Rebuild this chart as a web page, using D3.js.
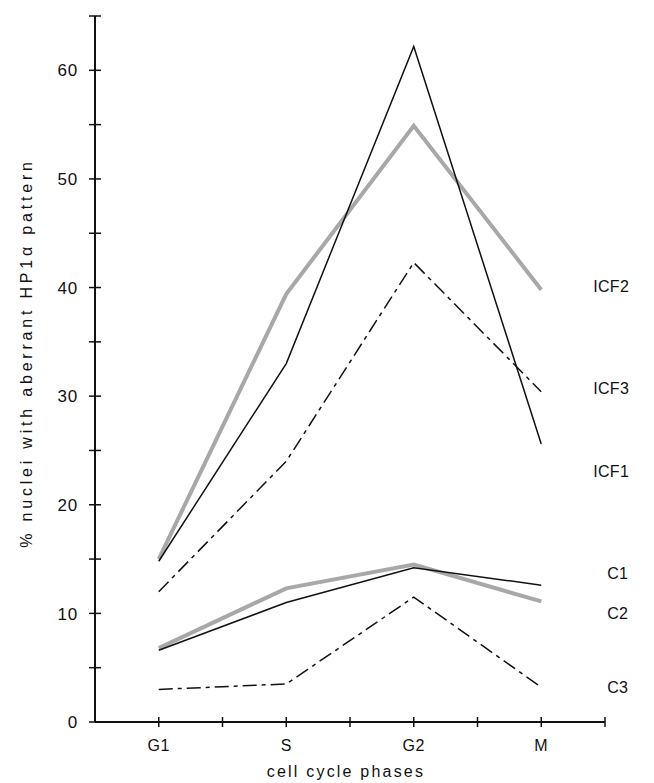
<!DOCTYPE html>
<html>
<head>
<meta charset="utf-8">
<script src="https://cdn.jsdelivr.net/npm/d3@7"></script>
<style>
  body { margin: 0; background: #fff; }
  svg { display: block; font-family: "Liberation Sans", Arial, sans-serif; }
</style>
</head>
<body>
<div id="chart"></div>
<script>
const phases = ["G1", "S", "G2", "M"];
const seriesNames = ["ICF1", "ICF2", "ICF3", "C1", "C2", "C3"];
const icf1 = [14.8, 33, 62.2, 25.6];
const icf2 = [15, 39.4, 54.9, 39.8];
const icf3 = [12, 24, 42.3, 30.4];
const c1 = [6.6, 11, 14.2, 12.6];
const c2 = [6.8, 12.3, 14.5, 11.1];
const c3 = [3, 3.5, 11.5, 3.2];
const yTicks = [0, 10, 20, 30, 40, 50, 60];

const width = 654, height = 783;

const svg = d3.select("#chart").append("svg")
  .attr("width", width)
  .attr("height", height);

// x: phases sit on odd positions, minor ticks on the even ones
const x = d3.scaleLinear().domain([0, 8]).range([95, 605]);
const y = d3.scaleLinear().domain([0, 65]).range([722, 16]);
const px = (i) => x(i * 2 + 1);

// styles per series
const styles = {
  ICF1: { color: "#111", width: 1.5, dash: null },
  ICF2: { color: "#a8a8a8", width: 4, dash: null },
  ICF3: { color: "#111", width: 1.5, dash: "14,5,4,5" },
  C1: { color: "#111", width: 1.5, dash: null },
  C2: { color: "#a8a8a8", width: 4, dash: null },
  C3: { color: "#111", width: 1.5, dash: "14,5,4,5" },
};
// label placement next to the last point (pixels)
const labelPos = {
  ICF1: { dx: 52, dy: 27 }, ICF2: { dx: 52, dy: -3 }, ICF3: { dx: 52, dy: -3 },
  C1: { dx: 66, dy: -12 }, C2: { dx: 66, dy: 12 }, C3: { dx: 66, dy: 0 },
};

const allSeries = [icf1, icf2, icf3, c1, c2, c3];

const line = d3.line()
  .x((d, i) => px(i))
  .y((d) => y(d));

// grey first so the black lines sit on top
const order = [1, 4, 0, 2, 3, 5];
order.forEach((k) => {
  const name = seriesNames[k];
  const s = styles[name];
  svg.append("path")
    .datum(allSeries[k])
    .attr("fill", "none")
    .attr("stroke", s.color)
    .attr("stroke-width", s.width)
    .attr("stroke-dasharray", s.dash)
    .attr("d", line);
});

// series labels
seriesNames.forEach((name, k) => {
  const vals = allSeries[k];
  const p = labelPos[name];
  svg.append("text")
    .attr("x", px(3) + p.dx)
    .attr("y", y(vals[3]) + p.dy)
    .attr("dy", "0.35em")
    .attr("font-size", 16)
    .attr("letter-spacing", 0.3)
    .attr("fill", "#111")
    .text(name);
});

// y axis
const yAxis = svg.append("g");
yAxis.append("line")
  .attr("x1", x(0)).attr("x2", x(0))
  .attr("y1", y(65)).attr("y2", y(0))
  .attr("stroke", "#111").attr("stroke-width", 2);
d3.range(0, 66, 5).forEach((v) => {
  yAxis.append("line")
    .attr("x1", x(0) - 6).attr("x2", x(0) + 6)
    .attr("y1", y(v)).attr("y2", y(v))
    .attr("stroke", "#111").attr("stroke-width", 1.5);
});
yTicks.forEach((v) => {
  yAxis.append("text")
    .attr("x", x(0) - 17)
    .attr("y", y(v))
    .attr("dy", "0.36em")
    .attr("text-anchor", "end")
    .attr("font-size", 17)
    .attr("letter-spacing", 0.8)
    .attr("fill", "#111")
    .text(v);
});

// x axis
const xAxis = svg.append("g");
xAxis.append("line")
  .attr("x1", x(0)).attr("x2", x(8))
  .attr("y1", y(0)).attr("y2", y(0))
  .attr("stroke", "#111").attr("stroke-width", 2);
d3.range(1, 9).forEach((t) => {
  xAxis.append("line")
    .attr("x1", x(t)).attr("x2", x(t))
    .attr("y1", y(0) - 5).attr("y2", y(0) + 5)
    .attr("stroke", "#111").attr("stroke-width", 1.5);
});
phases.forEach((p, i) => {
  xAxis.append("text")
    .attr("x", px(i))
    .attr("y", 751)
    .attr("text-anchor", "middle")
    .attr("font-size", 16)
    .attr("letter-spacing", 0.5)
    .attr("fill", "#111")
    .text(p);
});

// axis titles
svg.append("text")
  .attr("x", 346)
  .attr("y", 777)
  .attr("text-anchor", "middle")
  .attr("font-size", 16)
  .attr("letter-spacing", 2.2)
  .attr("fill", "#111")
  .text("cell cycle phases");

svg.append("text")
  .attr("transform", `translate(32,353) rotate(-90)`)
  .attr("text-anchor", "middle")
  .attr("font-size", 16)
  .attr("letter-spacing", 3.8)
  .attr("fill", "#111")
  .text("% nuclei with aberrant HP1α pattern");
</script>
</body>
</html>
